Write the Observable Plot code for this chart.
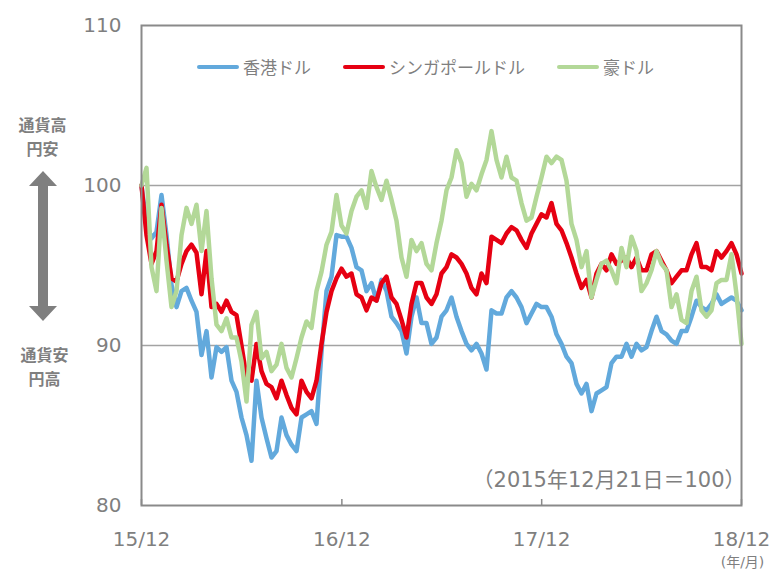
<!DOCTYPE html>
<html><head><meta charset="utf-8">
<script src="https://cdn.jsdelivr.net/npm/d3@7"></script>
<script src="https://cdn.jsdelivr.net/npm/@observablehq/plot@0.6"></script>
<style>
body{margin:0;background:#fff;}
#wrap{position:relative;width:775px;height:572px;}
#legend{position:absolute;left:197px;top:56px;display:flex;align-items:center;font-family:"Noto Sans CJK JP",sans-serif;font-size:17px;color:#7f7f7f;line-height:22px;z-index:2;}
.item{display:flex;align-items:center;margin-right:32px;}
.sw{width:42px;height:4px;border-radius:2px;margin-right:4px;}
</style></head><body><div id="wrap"><div id="legend"></div></div>
<script>
const seriesNames = ["香港ドル", "シンガポールドル", "豪ドル"];
const seriesColors = ["#62a9dc", "#e60012", "#b3d898"];
const startDate = new Date(Date.UTC(2015, 11, 21));
const endDate = new Date(Date.UTC(2018, 11, 21));
const tickLabels = ["15/12", "16/12", "17/12", "18/12"];
const yTicks = [80, 90, 100, 110];
const gridValues = [90, 100];
const note = "（2015年12月21日＝100）";
const unitLabel = "(年/月)";
const upLines = ["通貨高", "円安"];
const downLines = ["通貨安", "円高"];

const hkd = [100.0,97.6,96.7,97.1,99.4,96.9,93.8,92.4,93.4,93.6,92.8,92.1,89.4,90.9,88.0,89.9,89.6,89.9,87.8,87.1,85.5,
84.4,82.8,87.8,85.5,84.2,83.0,83.4,85.5,84.4,83.8,83.4,85.5,85.7,85.9,85.1,89.6,93.4,94.3,96.9,96.8,
96.8,96.1,94.9,94.7,93.4,93.9,92.8,94.1,93.4,91.8,91.4,90.9,89.5,91.8,93.0,91.4,91.4,90.1,90.5,91.8,
92.2,93.0,91.8,90.9,90.1,89.7,90.1,89.5,88.5,92.2,92.0,92.0,93.0,93.4,93.0,92.4,91.4,92.0,92.6,92.4,
92.4,91.8,90.7,90.1,89.3,88.9,87.6,87.0,87.6,85.9,87.0,87.2,87.4,88.9,89.3,89.3,90.1,89.3,90.1,89.7,
89.9,90.9,91.8,90.9,90.7,90.3,90.1,90.9,90.9,91.8,92.8,92.4,92.2,92.6,93.2,92.6,92.8,93.0,92.8,92.2];

const sgd = [100.0,96.9,95.1,95.9,98.8,96.3,94.2,94.0,95.1,95.9,96.3,95.8,93.2,95.9,92.4,92.6,92.1,92.8,92.1,91.9,90.0,
88.0,87.8,90.1,88.4,87.6,87.4,86.7,87.8,86.9,86.1,85.7,87.8,87.1,86.7,87.8,90.1,92.1,93.4,94.2,94.8,
94.3,94.5,93.2,93.0,92.2,93.0,92.8,93.9,94.3,93.0,92.6,91.6,90.5,92.6,93.9,93.9,93.0,92.6,93.2,94.5,
94.9,95.7,95.5,95.1,94.5,93.6,93.2,94.5,93.9,96.8,96.6,96.4,97.0,97.4,97.2,96.6,96.1,97.0,97.6,98.2,
98.0,98.9,97.6,97.2,96.4,95.5,94.5,93.6,94.1,93.0,94.5,95.1,94.7,95.7,95.1,95.3,95.5,94.9,95.5,94.7,
94.7,95.7,95.9,95.3,94.7,93.9,94.3,94.7,94.7,95.7,96.4,94.9,94.9,94.7,95.9,95.5,95.9,96.4,95.7,94.5];

const aud = [100.0,101.1,94.9,93.4,98.6,95.3,92.4,93.4,96.9,98.6,97.6,98.8,95.9,98.4,94.2,91.3,90.9,91.7,90.5,90.5,89.0,
86.5,91.3,92.1,89.2,89.6,88.4,88.8,90.1,88.6,88.0,89.2,90.5,91.5,91.1,93.4,94.6,96.3,97.1,99.4,97.5,
97.0,98.4,99.3,99.7,98.6,100.9,99.9,99.1,100.3,99.1,97.8,95.5,94.3,96.6,95.9,96.4,95.1,94.7,96.4,97.8,
99.7,100.5,102.2,101.4,99.3,100.1,99.7,100.7,101.6,103.4,101.6,100.5,101.8,100.5,100.3,98.9,97.8,98.0,99.3,100.5,
101.8,101.4,101.8,101.6,100.3,97.6,96.6,94.9,95.9,93.0,94.1,95.1,95.3,94.7,93.9,96.1,94.9,96.8,95.9,93.4,
93.9,94.7,95.9,95.1,94.7,92.4,93.2,91.6,91.4,93.4,94.3,92.2,91.8,92.2,93.9,94.1,94.1,95.7,93.2,90.1];

const seriesValues = [hkd, sgd, aud];
const step = (endDate - startDate) / (hkd.length - 1);
const dates = hkd.map((_, i) => new Date(+startDate + i * step));
const rows = [];
seriesValues.forEach((vals, s) => vals.forEach((v, i) => rows.push({date: dates[i], value: v, name: seriesNames[s]})));
const tickDates = tickLabels.map(s => new Date(Date.UTC(2000 + +s.slice(0, 2), +s.slice(3) - 1, 21)));

const gray = "#7f7f7f";
const sideText = (txt, dx, dy) => Plot.text([txt], {frameAnchor: "top-left", dx, dy, textAnchor: "middle", lineAnchor: "middle", fontSize: 16, fontWeight: "bold", fill: gray, fontFamily: '"Noto Sans CJK JP"'});
const chart = Plot.plot({
  width: 775, height: 572,
  marginLeft: 141, marginRight: 34, marginTop: 25, marginBottom: 67,
  style: {fontFamily: '"DejaVu Sans","Noto Sans CJK JP",sans-serif', color: gray, background: "transparent", overflow: "visible"},
  x: {type: "utc", domain: [startDate, endDate]},
  y: {domain: [80, 110]},
  color: {domain: seriesNames, range: seriesColors},
  marks: [
    Plot.ruleY(gridValues, {stroke: "#a3a3a3", strokeWidth: 1.5}),
    Plot.line(rows, {x: "date", y: "value", z: "name", stroke: "name", strokeWidth: 4.5, strokeLinejoin: "round", strokeLinecap: "round"}),
    Plot.frame({stroke: "#8a8a8a", strokeWidth: 2}),
    Plot.axisY({ticks: yTicks, tickSize: 0, tickPadding: 20, fontSize: 20, label: null, fill: gray}),
    Plot.axisX({ticks: tickDates, tickFormat: d3.utcFormat("%y/%m"), tickSize: 0, tickPadding: 26, fontSize: 20, label: null, fill: gray}),
    Plot.axisX({ticks: tickDates, tickSize: -6, text: null, label: null, stroke: "#8a8a8a", strokeWidth: 1.5}),
    Plot.text([note], {frameAnchor: "bottom-right", dx: 4, dy: -25, textAnchor: "end", lineAnchor: "middle", fontSize: 21, fill: gray}),
    Plot.text([unitLabel], {frameAnchor: "bottom-right", dx: 1, dy: 57, textAnchor: "middle", lineAnchor: "middle", fontSize: 14, fill: gray}),
    sideText(upLines[0], -99, 100),
    sideText(upLines[1], -99, 124),
    sideText(downLines[0], -97, 330),
    sideText(downLines[1], -97, 354)
  ]
});

// double-headed arrow decoration in the left margin
const ax = 43, aTop = 171, aBot = 321, hh = 15, hw = 14, sw = 5;
d3.select(chart).append("path")
  .attr("fill", gray)
  .attr("d", `M${ax},${aTop}L${ax + hw},${aTop + hh}L${ax + sw},${aTop + hh}L${ax + sw},${aBot - hh}L${ax + hw},${aBot - hh}L${ax},${aBot}L${ax - hw},${aBot - hh}L${ax - sw},${aBot - hh}L${ax - sw},${aTop + hh}L${ax - hw},${aTop + hh}Z`);

document.getElementById("wrap").prepend(chart);
chart.style.position = "absolute"; chart.style.left = "0"; chart.style.top = "0";

const legend = d3.select("#legend");
seriesNames.forEach((n, i) => {
  const it = legend.append("div").attr("class", "item");
  it.append("div").attr("class", "sw").style("background", seriesColors[i]);
  it.append("span").text(n);
});
</script></body></html>
